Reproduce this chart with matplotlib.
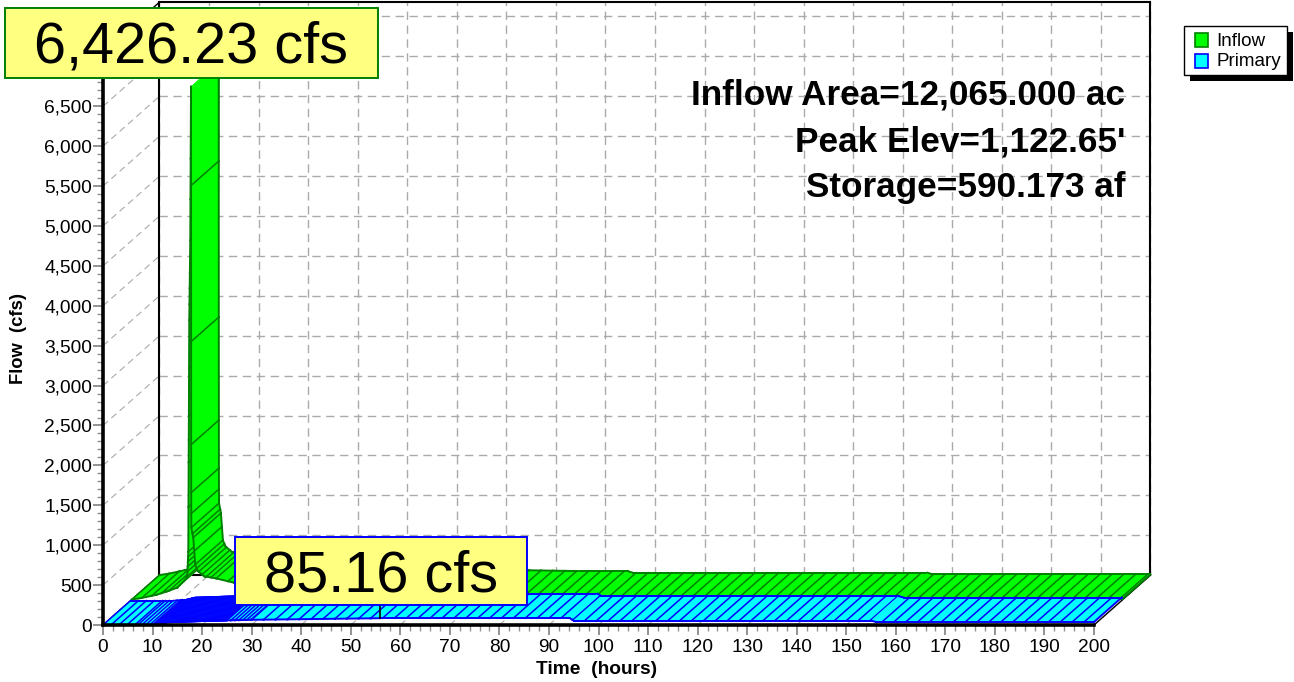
#!/usr/bin/env python3

import numpy as np
import matplotlib
matplotlib.use("Agg")
import matplotlib.pyplot as plt
from matplotlib.patches import Rectangle

plt.rcParams['font.family'] = ['Liberation Sans', 'DejaVu Sans']

# hydrograph samples, hours / cfs
inflow_t = [0, 2, 5, 7, 9.2, 10.5, 11.2, 11.4, 11.5, 11.6, 11.8, 11.95, 11.96, 11.97, 11.98, 11.99,
            12.0, 12.02, 12.4, 12.8, 13.3, 14.7, 16.3, 20.6, 40, 60, 85, 94.5, 95.5, 155, 156, 200]
inflow_q = [0, 20, 60, 100, 150, 230, 290, 600, 2000, 3500, 4500, 6426.23, 5188, 3233, 1942, 1340,
            1078, 902, 777, 438, 360, 288, 275, 212, 120, 75, 50, 50, 30, 30, 10, 10]
primary_t = [0, 9, 11, 13, 20, 30, 56, 94.2, 95, 155, 156, 200]
primary_q = [0, 0, 5, 35, 50, 65, 85.16, 85.16, 55, 55, 38, 38]

x_ticks = list(range(0, 201, 10))
y_ticks = list(range(0, 7001, 500))
notes = ["Inflow Area=12,065.000 ac", "Peak Elev=1,122.65'", "Storage=590.173 af"]

# oblique depth of the chart box, in data units
DEPTH_X = 11.4
DEPTH_Y = 625
YMAX = 7180

W, H = 1294, 682
fig = plt.figure(figsize=(W / 100, H / 100), dpi=100)
ax = fig.add_axes([103 / W, (H - 625) / H, 991 / W, 573 / H])
ax.set_xlim(0, 200)
ax.set_ylim(0, YMAX)
ax.patch.set_visible(False)

GRID = dict(color="#aaaaaa", lw=1.0, ls=(0, (6, 4)), clip_on=False, zorder=1)

for t in x_ticks:
    ax.plot([t + DEPTH_X] * 2, [DEPTH_Y, DEPTH_Y + YMAX], **GRID)
    ax.plot([t, t + DEPTH_X], [0, DEPTH_Y], **{**GRID, "lw": 0.8})
for q in y_ticks[1:]:
    ax.plot([DEPTH_X, 200 + DEPTH_X], [q + DEPTH_Y] * 2, **GRID)
    ax.plot([0, DEPTH_X], [q, q + DEPTH_Y], **{**GRID, "lw": 0.8})

# box outline
box = dict(color="black", lw=1.5, clip_on=False, zorder=2)
ax.plot([DEPTH_X, DEPTH_X, 200 + DEPTH_X, 200 + DEPTH_X],
        [DEPTH_Y + YMAX, DEPTH_Y, DEPTH_Y, DEPTH_Y + YMAX], **box)
ax.plot([DEPTH_X, 200 + DEPTH_X], [DEPTH_Y + YMAX] * 2, **box)
ax.plot([0, DEPTH_X], [YMAX, YMAX + DEPTH_Y], **{**box, "lw": 1.0})
ax.plot([0, DEPTH_X], [0, DEPTH_Y], **{**box, "lw": 1.0})
ax.plot([200, 200 + DEPTH_X], [0, DEPTH_Y], **{**box, "lw": 1.0})


def draw_ribbon(t, q, d0, d1, fill, edge, hatch_t, z):
    """Ribbon between two depth fractions, painted in time order so later steps cover earlier ones."""
    hatch_t = set(np.round(hatch_t, 3))
    steps = np.array(sorted(set(np.round(t, 3)) | hatch_t))
    vals = np.interp(steps, t, q)
    x0, y0 = steps + d0 * DEPTH_X, vals + d0 * DEPTH_Y
    x1, y1 = steps + d1 * DEPTH_X, vals + d1 * DEPTH_Y
    style = dict(color=edge, clip_on=False)
    for i in range(len(steps) - 1):
        zi = z + i / (2 * len(steps))
        ax.fill([x0[i], x0[i + 1], x1[i + 1], x1[i]],
                [y0[i], y0[i + 1], y1[i + 1], y1[i]],
                color=fill, lw=0.3, clip_on=False, zorder=zi)
        ax.plot(x0[i:i + 2], y0[i:i + 2], lw=1.4, zorder=zi, **style)
        ax.plot(x1[i:i + 2], y1[i:i + 2], lw=1.4, zorder=zi, **style)
        if i == 0 or steps[i] in hatch_t:
            ax.plot([x0[i], x1[i]], [y0[i], y1[i]], lw=1.1, zorder=zi, **style)
    ax.plot([x0[-1], x1[-1]], [y0[-1], y1[-1]], lw=1.4, zorder=z + 0.6, **style)


# hatch lines are not evenly spaced, the source packs them where its time step is short
inflow_hatch = [2, 4, 6, 7.5, 9, 10.5] + list(np.arange(11.2, 11.9, 0.04)) \
    + [11.96, 11.97, 11.98, 11.99, 12.0, 12.02, 12.25, 12.4, 12.6, 12.8, 13.1, 13.5, 14.2, 15, 16] \
    + list(np.arange(17, 200, 2.4))
primary_hatch = list(np.arange(1.6, 7, 1.6)) + list(np.arange(7, 10, 0.8)) + list(np.arange(10, 25, 0.2)) \
    + list(np.arange(25, 30, 0.8)) + list(np.arange(30, 200, 2.4))

draw_ribbon(inflow_t, inflow_q, 0.51, 1.0, "#00ff00", "#008000", inflow_hatch, 3)
draw_ribbon(primary_t, primary_q, 0.0, 0.49, "#00ffff", "#0000ff", primary_hatch, 4)

# peak marker under the primary label
ax.plot([56, 56], [85.16, 300], color="black", lw=1.2, clip_on=False, zorder=5)

for side in ["top", "right"]:
    ax.spines[side].set_visible(False)
for side in ["left", "bottom"]:
    ax.spines[side].set_linewidth(2.6)
    ax.spines[side].set_zorder(6)

ax.set_xticks(x_ticks)
ax.set_xticks(np.arange(0, 201, 2), minor=True)
ax.set_yticks(y_ticks)
ax.set_yticks(np.arange(0, 7001, 100), minor=True)
ax.set_yticklabels([f"{v:,}" for v in y_ticks])
ax.tick_params(which="major", length=7, width=1.2, color="#808080", labelsize=13.8, pad=1)
ax.tick_params(which="minor", length=4, width=1.0, color="#909090")
ax.tick_params(axis="x", which="major", pad=3)

# everything placed in pixels from here on
top = fig.add_axes([0, 0, 1, 1], zorder=10)
top.set_xlim(0, W)
top.set_ylim(H, 0)
top.axis("off")

top.text(597, 669, "Time  (hours)", fontsize=13.8, fontweight="bold", ha="center", va="center")
top.text(19, 339, "Flow  (cfs)", fontsize=13.2, fontweight="bold", rotation=90, ha="center", va="center")

for note, y in zip(notes, [95, 142, 188]):
    top.text(1125, y, note, fontsize=25.3, fontweight="bold", ha="right", va="center")

top.add_patch(Rectangle((5, 8), 373, 70, fc="#ffff80", ec="#008000", lw=1.4))
top.text(191, 47, "6,426.23 cfs", fontsize=41.5, ha="center", va="center")
top.add_patch(Rectangle((235, 537), 292, 68, fc="#ffff80", ec="#0000ff", lw=1.4))
top.text(381, 576, "85.16 cfs", fontsize=41.5, ha="center", va="center")

# legend
top.add_patch(Rectangle((1190, 32), 103, 49, fc="black", ec="none"))
top.add_patch(Rectangle((1184, 26), 103, 49, fc="white", ec="black", lw=1.0))
top.add_patch(Rectangle((1195, 33), 13, 14, fc="#00ff00", ec="#008000", lw=1.2))
top.add_patch(Rectangle((1195, 54), 13, 14, fc="#00ffff", ec="#0000ff", lw=1.2))
top.text(1216, 41, "Inflow", fontsize=13.6, ha="left", va="center")
top.text(1216, 61, "Primary", fontsize=13.6, ha="left", va="center")

fig.savefig("out.png", dpi=100)
